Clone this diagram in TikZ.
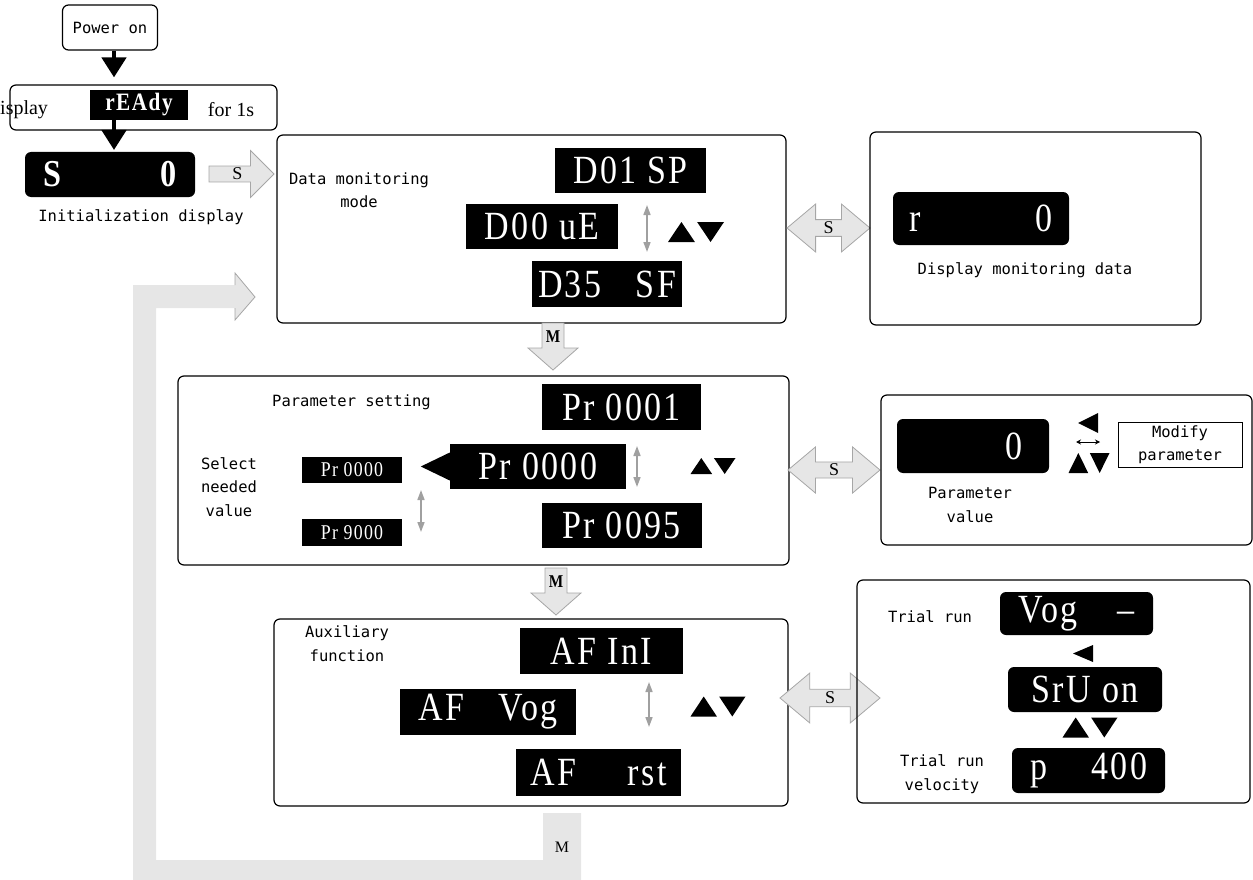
\documentclass[tikz,border=0pt]{standalone}
\usepackage{fontspec}
\setmainfont{Liberation Serif}
\newfontfamily\lblfont{DejaVu Sans Mono}
\newfontfamily\lcdfont[FakeStretch=0.85,LetterSpace=6]{Liberation Serif}
\usetikzlibrary{arrows.meta,shapes.arrows}
\definecolor{arrowfill}{HTML}{E6E6E6}
\definecolor{arrowline}{HTML}{A6A6A6}
\definecolor{swapgray}{HTML}{A0A0A0}

\begin{document}
\begin{tikzpicture}[x=1pt,y=-1pt,
  panel/.style={draw,line width=1.2pt,rounded corners=6pt,inner sep=0pt},
  lbl/.style={font=\lblfont\fontsize{15.5}{23.5}\selectfont,align=center,inner sep=0pt},
  lcd/.style={fill=black,text=white,inner sep=0pt,inner xsep=6pt,font=\lcdfont\fontsize{40}{40}\selectfont},
  lcdr/.style={lcd,rounded corners=6pt},
  lcdsmall/.style={fill=black,text=white,inner sep=0pt,font=\lcdfont\fontsize{21}{21}\selectfont},
  keyarrow/.style={single arrow,draw=arrowline,fill=arrowfill,line width=0.8pt,inner sep=0pt,
    single arrow head extend=12.5pt,font=\fontsize{18}{18}\selectfont},
  swaparrow/.style={double arrow,draw=arrowline,fill=arrowfill,line width=0.8pt,inner sep=0pt,
    double arrow head extend=12pt,double arrow tip angle=80,font=\fontsize{18}{18}\selectfont},
  flow/.style={line width=4.5pt,-{Triangle[length=20pt,width=24pt]}},
  scroll/.style={swapgray,line width=1.6pt,{Triangle[length=10pt,width=7pt]}-{Triangle[length=10pt,width=7pt]}},
  updown/.pic={\fill (-25,10) -- (-1,10) -- (-13,-10) -- cycle;
    \fill (1,-10) -- (25,-10) -- (13,10) -- cycle;},
  leftkey/.pic={\fill (10,-10) -- (10,10) -- (-10,0) -- cycle;},
  modekey/.pic={\filldraw[draw=arrowline,fill=arrowfill,line width=0.8pt]
      (-11,0) -- (-11,25) -- (-25,25) -- (0,47) -- (25,25) -- (11,25) -- (11,0) -- cycle;
    \node[font=\lcdfont\bfseries\fontsize{18}{18}\selectfont] (m) at (0,14) {M};}
]
\useasboundingbox (0,0) rectangle (1253,880);

\fill[arrowfill] (133,880) -- (133,285) -- (235,285) -- (235,273) -- (255,297) -- (235,320)
  -- (235,308) -- (156,308) -- (156,860) -- (543,860) -- (543,813) -- (581,813) -- (581,880) -- cycle;
\draw[arrowline,line width=0.8pt] (235,285) -- (235,273) -- (255,297) -- (235,320) -- (235,308);
\node[font=\fontsize{16}{16}\selectfont] (mback) at (562,847) {M};

\node[panel,lbl,minimum width=95,minimum height=45] (pwr) at (110,27.5) {Power on};
\node[panel,minimum width=267,minimum height=45] (rbox) at (143.5,107.5) {};
\node[fill=black,text=white,minimum width=98,minimum height=30,inner sep=0pt,
  font=\lcdfont\bfseries\fontsize{25}{25}\selectfont] (rdy) at (139,105) {rEAdy};
\node[anchor=west,inner sep=0pt,font=\fontsize{20}{20}\selectfont] (disp) at (0,110) {isplay};
\node[inner sep=0pt,font=\fontsize{20}{20}\selectfont] (sec) at (231,110) {for 1s};
\coordinate (drop) at (114,0);
\draw[flow,shorten >=7pt] (pwr.south -| drop) -- (rbox.north -| drop);
\draw[flow,shorten >=2pt] (rdy.south -| drop) -- (152,152 -| drop);

\node[lcdr,minimum width=170,minimum height=45,text width=134,
  font=\lcdfont\bfseries\fontsize{38}{38}\selectfont] (init) at (110,174.5) {S\hfill 0};
\node[lbl] (initcap) at (141,217) {Initialization display};
\node[keyarrow,minimum height=65,minimum width=47] (s0) at (237.5,174) {S};

\node[panel,minimum width=509,minimum height=188] (dmode) at (531.5,229) {};
\node[lbl] (dmodecap) at (359,190) {Data monitoring\\mode};
\node[lcd,minimum width=151,minimum height=45] (d01) at (630.5,170.5) {D01 SP};
\node[lcd,minimum width=152,minimum height=45] (d00) at (542,226.5) {D00 uE};
\node[lcd,minimum width=150,minimum height=46,text width=138] (d35) at (607,284) {D35\hfill SF};
\coordinate (d1top) at (647,205);
\coordinate (d1bot) at (647,252);
\draw[scroll] (d1top) -- (d1bot);
\pic[xscale=1.12] at (696,232) {updown};

\node[swaparrow,minimum height=83,minimum width=48] (s1) at (828.5,228) {S};

\node[panel,minimum width=331,minimum height=193] (dmon) at (1035.5,228.5) {};
\node[lcdr,minimum width=176,minimum height=53,text width=143] (rval) at (981,218.5) {r\hfill 0};
\node[lbl] (dmoncap) at (1025,270) {Display monitoring data};

\pic (m1) at (553,323) {modekey};

\node[panel,minimum width=611,minimum height=189] (pset) at (483.5,470.5) {};
\node[lbl] (psetcap) at (351.5,402) {Parameter setting};
\node[lcd,minimum width=159,minimum height=46] (p01) at (621.5,407) {Pr 0001};
\node[lcd,minimum width=176,minimum height=45] (p00) at (538,466.5) {Pr 0000};
\fill (p00.west) ++(0,-14) -- ++(-29,14) -- ++(29,14) -- cycle;
\node[lcd,minimum width=160,minimum height=45] (p95) at (621.5,525.5) {Pr 0095};
\coordinate (p1top) at (637,446);
\coordinate (p1bot) at (637,487);
\draw[scroll] (p1top) -- (p1bot);
\pic[xscale=0.9,yscale=0.8] at (713,466) {updown};
\node[lbl] (selcap) at (229,487) {Select\\needed\\value};
\node[lcdsmall,minimum width=100,minimum height=26] (q00) at (352,470) {Pr 0000};
\node[lcdsmall,minimum width=100,minimum height=27] (q90) at (352,532.5) {Pr 9000};
\coordinate (q1top) at (421,490);
\coordinate (q1bot) at (421,532);
\draw[scroll] (q1top) -- (q1bot);

\node[swaparrow,minimum height=92,minimum width=46] (s2) at (834,470) {S};

\node[panel,minimum width=371,minimum height=150] (pval) at (1066.5,470) {};
\node[lcdr,minimum width=152,minimum height=54,text width=98] (pv) at (973,446) {\hfill 0};
\node[lbl] (pvcap) at (970,505) {Parameter\\value};
\pic at (1088,423) {leftkey};
\coordinate (lr1) at (1076,442);
\coordinate (lr2) at (1100,442);
\draw[{Stealth[length=5pt,width=5pt]}-{Stealth[length=5pt,width=5pt]},line width=0.9pt] (lr1) -- (lr2);
\pic[xscale=0.82] at (1089,463) {updown};
\node[lbl,draw,line width=0.9pt,minimum width=124,minimum height=45] (modp) at (1180,444.5) {Modify\\parameter};

\pic (m2) at (556,568) {modekey};

\node[panel,minimum width=514,minimum height=187] (aux) at (531,712.5) {};
\node[lbl] (auxcap) at (347,643.5) {Auxiliary\\function};
\node[lcd,minimum width=163,minimum height=46] (afi) at (601.5,651) {AF InI};
\node[lcd,minimum width=176,minimum height=46,text width=139] (afv) at (488,712) {AF\hfill Vog};
\node[lcd,minimum width=165,minimum height=47,text width=136] (afr) at (598.5,772.5) {AF\hfill rst};
\coordinate (a1top) at (649,682);
\coordinate (a1bot) at (649,727);
\draw[scroll] (a1top) -- (a1bot);
\pic[xscale=1.1] at (718,706.5) {updown};

\node[swaparrow,minimum height=100,minimum width=50] (s3) at (830,698) {S};

\node[panel,minimum width=393,minimum height=223] (trial) at (1053.5,691.5) {};
\node[lbl] (trialcap) at (930,617) {Trial run};
\node[lcdr,minimum width=153,minimum height=43,text width=116] (jog) at (1076.5,613.5) {Vog\hfill\textendash};
\pic[yscale=0.85] at (1083,653.5) {leftkey};
\node[lcdr,minimum width=154,minimum height=45] (srv) at (1085,689.5) {SrU on};
\pic[xscale=1.1] at (1090,727.5) {updown};
\node[lcdr,minimum width=153,minimum height=45,text width=117] (vel) at (1088.5,770.5) {p\hfill 400};
\node[lbl] (velcap) at (942,774) {Trial run\\velocity};
\end{tikzpicture}
\end{document}
